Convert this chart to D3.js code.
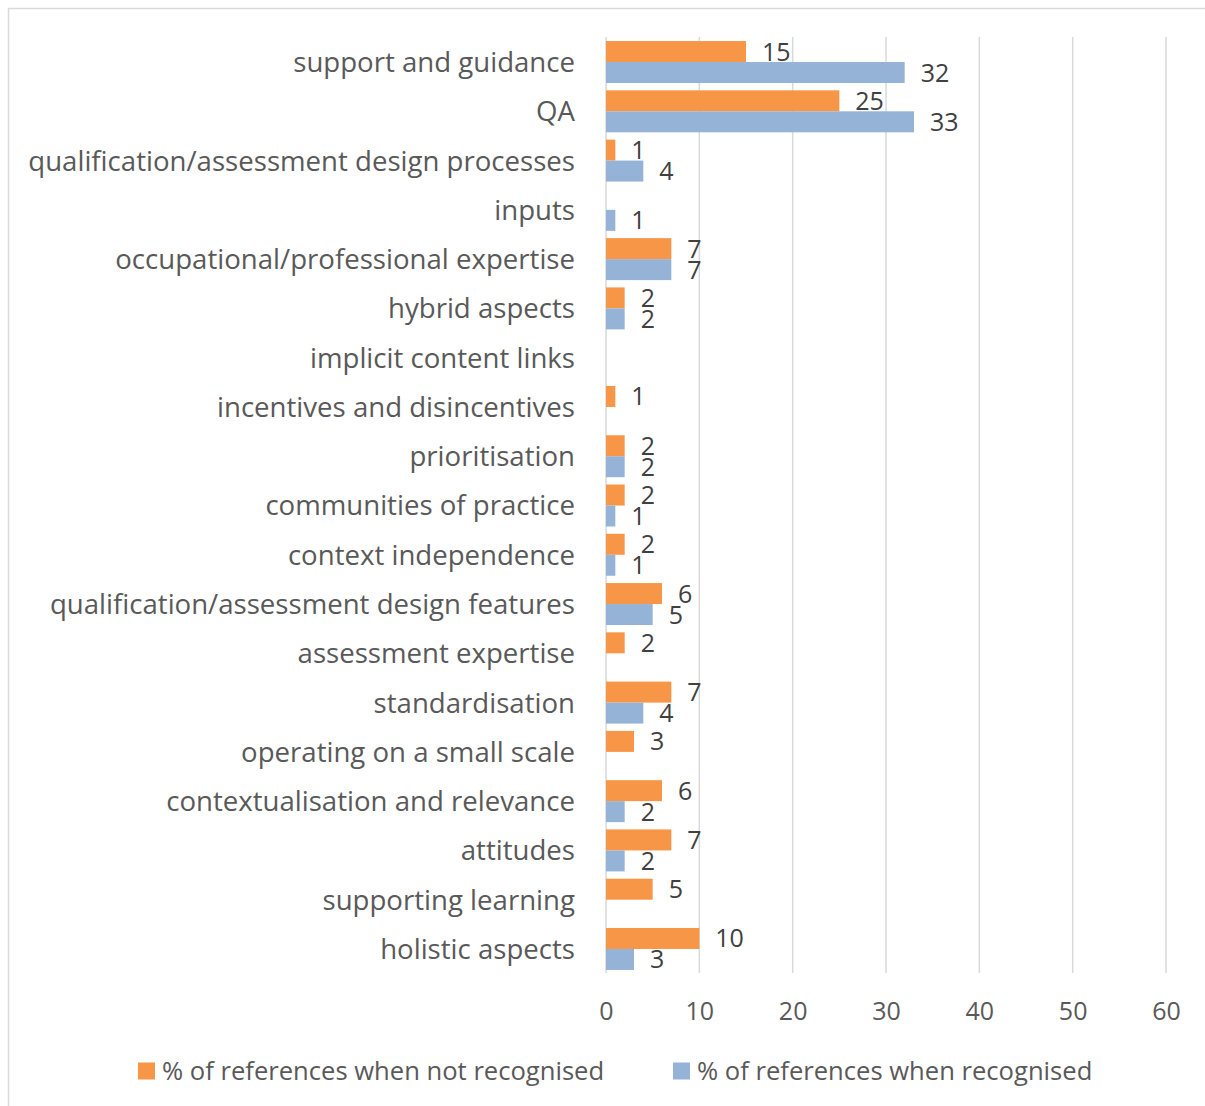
<!DOCTYPE html>
<html>
<head>
    <meta charset="utf-8">
    <title>References by factor</title>
    <script src="https://cdn.jsdelivr.net/npm/d3@7"></script>
    <style>
        body { margin: 0; background: #fff; }
        text { font-family: "Open Sans", Lato, sans-serif; }
    </style>
</head>
<body>
<svg id="chart" width="1205" height="1106"></svg>

<script type="text/javascript">
    // categories, top to bottom
    const categories = [
        "support and guidance", "QA", "qualification/assessment design processes", "inputs",
        "occupational/professional expertise", "hybrid aspects", "implicit content links",
        "incentives and disincentives", "prioritisation", "communities of practice",
        "context independence", "qualification/assessment design features", "assessment expertise",
        "standardisation", "operating on a small scale", "contextualisation and relevance",
        "attitudes", "supporting learning", "holistic aspects"
    ];
    // null = no bar shown
    const notRecognised = [15, 25, 1, null, 7, 2, null, 1, 2, 2, 2, 6, 2, 7, 3, 6, 7, 5, 10];
    const recognised = [32, 33, 4, 1, 7, 2, null, null, 2, 1, 1, 5, null, 4, null, 2, 2, null, 3];
    const seriesNames = ["% of references when not recognised", "% of references when recognised"];
    const xTicks = [0, 10, 20, 30, 40, 50, 60];

    const colors = ["#F79646", "#95B3D7"];
    const svg = d3.select("#chart");

    // outer frame
    svg.append("rect")
        .attr("x", 8.5).attr("y", 8.5)
        .attr("width", 1210).attr("height", 1110)
        .attr("fill", "none").attr("stroke", "#d9d9d9").attr("stroke-width", 1.5);

    const x = d3.scaleLinear().domain([0, 60]).range([606, 1166]);
    const y = d3.scaleBand().domain(categories).range([37.4, 973.6]).padding(0);
    const sub = d3.scaleBand().domain([0, 1]).range([0, y.bandwidth()]).paddingOuter(0.174).paddingInner(0);

    // gridlines
    svg.append("g")
        .selectAll("line")
        .data(xTicks)
        .join("line")
        .attr("x1", d => x(d)).attr("x2", d => x(d))
        .attr("y1", 37).attr("y2", 973)
        .attr("stroke", "#d9d9d9").attr("stroke-width", 1.5);

    // bars + labels per series
    const series = [notRecognised, recognised];
    series.forEach((vals, si) => {
        const rows = categories.map((c, i) => ({cat: c, v: vals[i]})).filter(d => d.v != null);
        const g = svg.append("g");
        g.selectAll("rect")
            .data(rows)
            .join("rect")
            .attr("x", x(0))
            .attr("y", d => y(d.cat) + sub(si))
            .attr("width", d => x(d.v) - x(0))
            .attr("height", sub.bandwidth())
            .attr("fill", colors[si]);
        g.selectAll("text")
            .data(rows)
            .join("text")
            .attr("x", d => x(d.v) + 16)
            .attr("y", d => y(d.cat) + sub(si) + sub.bandwidth() / 2)
            .attr("dy", "0.36em")
            .attr("font-size", 25)
            .attr("fill", "#404040")
            .text(d => d.v);
    });

    // category labels
    svg.append("g")
        .selectAll("text")
        .data(categories)
        .join("text")
        .attr("x", 575)
        .attr("y", d => y(d) + y.bandwidth() / 2)
        .attr("dy", "0.36em")
        .attr("text-anchor", "end")
        .attr("font-size", 27.6)
        .attr("fill", "#595959")
        .text(d => d);

    // x axis labels
    const xAxis = svg.append("g")
        .attr("transform", "translate(0, 1002)")
        .call(d3.axisBottom(x).tickValues(xTicks).tickSize(0).tickPadding(0));
    xAxis.select(".domain").remove();
    xAxis.selectAll("text")
        .attr("font-size", 25)
        .attr("font-family", "'Open Sans', sans-serif")
        .attr("fill", "#595959")
        .attr("dy", "0.71em");

    // legend
    const legendX = [138, 673];
    const legend = svg.append("g")
        .selectAll("g")
        .data(seriesNames)
        .join("g")
        .attr("transform", (d, i) => `translate(${legendX[i]}, 1071)`);
    legend.append("rect")
        .attr("x", 0).attr("y", -8.5)
        .attr("width", 17).attr("height", 17)
        .attr("fill", (d, i) => colors[i]);
    legend.append("text")
        .attr("x", 24)
        .attr("dy", "0.36em")
        .attr("font-size", 25.6)
        .attr("fill", "#595959")
        .text(d => d);
</script>
</body>
</html>
